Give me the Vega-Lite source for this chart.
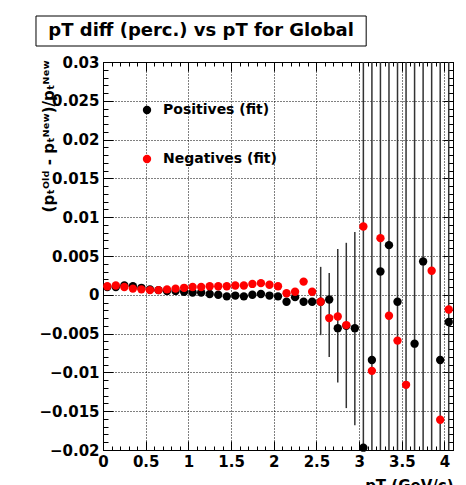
{
  "$schema": "https://vega.github.io/schema/vega-lite/v6.json",
  "padding": {"left": 35, "top": 15, "right": 5, "bottom": 0},
  "background": "white",
  "spacing": 7,
  "config": {"font": "DejaVu Sans"},
  "datasets": {
    "pts": [
      {"pT": 0.05, "v": 0.0010, "s": "Positives (fit)"},
      {"pT": 0.15, "v": 0.0010, "s": "Positives (fit)"},
      {"pT": 0.25, "v": 0.0012, "s": "Positives (fit)"},
      {"pT": 0.35, "v": 0.0011, "s": "Positives (fit)"},
      {"pT": 0.45, "v": 0.0009, "s": "Positives (fit)"},
      {"pT": 0.55, "v": 0.0007, "s": "Positives (fit)"},
      {"pT": 0.65, "v": 0.0006, "s": "Positives (fit)"},
      {"pT": 0.75, "v": 0.0005, "s": "Positives (fit)"},
      {"pT": 0.85, "v": 0.0005, "s": "Positives (fit)"},
      {"pT": 0.95, "v": 0.0004, "s": "Positives (fit)"},
      {"pT": 1.05, "v": 0.0003, "s": "Positives (fit)"},
      {"pT": 1.15, "v": 0.0003, "s": "Positives (fit)"},
      {"pT": 1.25, "v": 0.0001, "s": "Positives (fit)"},
      {"pT": 1.35, "v": 0.0000, "s": "Positives (fit)"},
      {"pT": 1.45, "v": -0.0002, "s": "Positives (fit)"},
      {"pT": 1.55, "v": -0.0001, "s": "Positives (fit)"},
      {"pT": 1.65, "v": -0.0002, "s": "Positives (fit)"},
      {"pT": 1.75, "v": 0.0000, "s": "Positives (fit)"},
      {"pT": 1.85, "v": 0.0001, "s": "Positives (fit)"},
      {"pT": 1.95, "v": -0.0001, "s": "Positives (fit)"},
      {"pT": 2.05, "v": -0.0002, "s": "Positives (fit)"},
      {"pT": 2.15, "v": -0.0009, "s": "Positives (fit)"},
      {"pT": 2.25, "v": -0.0003, "s": "Positives (fit)"},
      {"pT": 2.35, "v": -0.0009, "s": "Positives (fit)"},
      {"pT": 2.45, "v": -0.0009, "s": "Positives (fit)"},
      {"pT": 2.55, "v": -0.0009, "s": "Positives (fit)"},
      {"pT": 2.65, "v": -0.0006, "s": "Positives (fit)"},
      {"pT": 2.75, "v": -0.0043, "s": "Positives (fit)"},
      {"pT": 2.85, "v": -0.0040, "s": "Positives (fit)"},
      {"pT": 2.95, "v": -0.0043, "s": "Positives (fit)"},
      {"pT": 3.05, "v": -0.0197, "s": "Positives (fit)"},
      {"pT": 3.15, "v": -0.0084, "s": "Positives (fit)"},
      {"pT": 3.25, "v": 0.0030, "s": "Positives (fit)"},
      {"pT": 3.35, "v": 0.0064, "s": "Positives (fit)"},
      {"pT": 3.45, "v": -0.0009, "s": "Positives (fit)"},
      {"pT": 3.65, "v": -0.0063, "s": "Positives (fit)"},
      {"pT": 3.75, "v": 0.0043, "s": "Positives (fit)"},
      {"pT": 3.95, "v": -0.0084, "s": "Positives (fit)"},
      {"pT": 4.05, "v": -0.0035, "s": "Positives (fit)"},
      {"pT": 0.05, "v": 0.0011, "s": "Negatives (fit)"},
      {"pT": 0.15, "v": 0.0012, "s": "Negatives (fit)"},
      {"pT": 0.25, "v": 0.0010, "s": "Negatives (fit)"},
      {"pT": 0.35, "v": 0.0008, "s": "Negatives (fit)"},
      {"pT": 0.45, "v": 0.0007, "s": "Negatives (fit)"},
      {"pT": 0.55, "v": 0.0006, "s": "Negatives (fit)"},
      {"pT": 0.65, "v": 0.0006, "s": "Negatives (fit)"},
      {"pT": 0.75, "v": 0.0007, "s": "Negatives (fit)"},
      {"pT": 0.85, "v": 0.0008, "s": "Negatives (fit)"},
      {"pT": 0.95, "v": 0.0009, "s": "Negatives (fit)"},
      {"pT": 1.05, "v": 0.0010, "s": "Negatives (fit)"},
      {"pT": 1.15, "v": 0.0010, "s": "Negatives (fit)"},
      {"pT": 1.25, "v": 0.0011, "s": "Negatives (fit)"},
      {"pT": 1.35, "v": 0.0011, "s": "Negatives (fit)"},
      {"pT": 1.45, "v": 0.0011, "s": "Negatives (fit)"},
      {"pT": 1.55, "v": 0.0012, "s": "Negatives (fit)"},
      {"pT": 1.65, "v": 0.0012, "s": "Negatives (fit)"},
      {"pT": 1.75, "v": 0.0014, "s": "Negatives (fit)"},
      {"pT": 1.85, "v": 0.0015, "s": "Negatives (fit)"},
      {"pT": 1.95, "v": 0.0013, "s": "Negatives (fit)"},
      {"pT": 2.05, "v": 0.0011, "s": "Negatives (fit)"},
      {"pT": 2.15, "v": 0.0002, "s": "Negatives (fit)"},
      {"pT": 2.25, "v": 0.0004, "s": "Negatives (fit)"},
      {"pT": 2.35, "v": 0.0017, "s": "Negatives (fit)"},
      {"pT": 2.45, "v": 0.0004, "s": "Negatives (fit)"},
      {"pT": 2.55, "v": -0.0009, "s": "Negatives (fit)"},
      {"pT": 2.65, "v": -0.0030, "s": "Negatives (fit)"},
      {"pT": 2.75, "v": -0.0028, "s": "Negatives (fit)"},
      {"pT": 2.85, "v": -0.0039, "s": "Negatives (fit)"},
      {"pT": 3.05, "v": 0.0088, "s": "Negatives (fit)"},
      {"pT": 3.15, "v": -0.0098, "s": "Negatives (fit)"},
      {"pT": 3.25, "v": 0.0073, "s": "Negatives (fit)"},
      {"pT": 3.35, "v": -0.0027, "s": "Negatives (fit)"},
      {"pT": 3.45, "v": -0.0059, "s": "Negatives (fit)"},
      {"pT": 3.55, "v": -0.0116, "s": "Negatives (fit)"},
      {"pT": 3.85, "v": 0.0031, "s": "Negatives (fit)"},
      {"pT": 3.95, "v": -0.0161, "s": "Negatives (fit)"},
      {"pT": 4.05, "v": -0.0019, "s": "Negatives (fit)"}
    ],
    "err": [
      {"pT": 2.55, "lo": -0.0052, "hi": 0.0036},
      {"pT": 2.65, "lo": -0.0080, "hi": 0.0028},
      {"pT": 2.75, "lo": -0.0113, "hi": 0.0059},
      {"pT": 2.85, "lo": -0.0146, "hi": 0.0067},
      {"pT": 2.95, "lo": -0.0168, "hi": 0.0081},
      {"pT": 3.05, "lo": -0.02, "hi": 0.03},
      {"pT": 3.15, "lo": -0.02, "hi": 0.03},
      {"pT": 3.25, "lo": -0.02, "hi": 0.03},
      {"pT": 3.35, "lo": -0.02, "hi": 0.03},
      {"pT": 3.45, "lo": -0.02, "hi": 0.03},
      {"pT": 3.55, "lo": -0.02, "hi": 0.03},
      {"pT": 3.65, "lo": -0.02, "hi": 0.03},
      {"pT": 3.75, "lo": -0.02, "hi": 0.03},
      {"pT": 3.85, "lo": -0.02, "hi": 0.03},
      {"pT": 3.95, "lo": -0.02, "hi": 0.03},
      {"pT": 4.05, "lo": -0.02, "hi": 0.03}
    ],
    "ttl": [{"t": "pT diff (perc.) vs pT for Global"}]
  },
  "resolve": {"legend": {"color": "independent"}},
  "vconcat": [
    {
      "width": 350,
      "height": 30,
      "view": {"stroke": null},
      "data": {"name": "ttl"},
      "layer": [
        {
          "mark": {"type": "rect", "fill": "white", "stroke": "black", "strokeWidth": 1, "clip": false},
          "encoding": {
            "x": {"datum": -0.785, "type": "quantitative", "scale": {"domain": [0, 4.1], "nice": false, "zero": false}, "axis": null},
            "x2": {"datum": 3.083}
          }
        },
        {
          "mark": {"type": "text", "font": "DejaVu Sans", "fontWeight": "bold", "fontSize": 18, "color": "black"},
          "encoding": {
            "x": {"datum": 1.149, "type": "quantitative"},
            "text": {"field": "t"}
          }
        }
      ]
    },
    {
      "width": 350,
      "height": 388,
      "view": {"stroke": "black", "strokeWidth": 1},
      "resolve": {"axis": {"x": "independent", "y": "independent"}},
      "layer": [
        {
          "data": {"name": "err"},
          "mark": {"type": "rule", "color": "#333333", "strokeWidth": 1.5},
          "encoding": {
            "x": {
              "field": "pT", "type": "quantitative",
              "scale": {"domain": [0, 4.1], "nice": false, "zero": false},
              "axis": {
                "orient": "bottom",
                "values": [0,0.1,0.2,0.3,0.4,0.5,0.6,0.7,0.8,0.9,1,1.1,1.2,1.3,1.4,1.5,1.6,1.7,1.8,1.9,2,2.1,2.2,2.3,2.4,2.5,2.6,2.7,2.8,2.9,3,3.1,3.2,3.3,3.4,3.5,3.6,3.7,3.8,3.9,4,4.1],
                "tickSize": {"condition": {"test": "abs(datum.value*2 - round(datum.value*2)) < 0.01", "value": -9}, "value": -4},
                "tickColor": "black",
                "tickWidth": 1,
                "domainColor": "black",
                "grid": true,
                "gridColor": "black",
                "gridDash": [1, 2],
                "gridWidth": 1,
                "gridOpacity": {"condition": {"test": "abs(datum.value*2 - round(datum.value*2)) < 0.01 && datum.value > 0 && datum.value < 4.05", "value": 1}, "value": 0},
                "labelExpr": "abs(datum.value*2 - round(datum.value*2)) < 0.01 ? format(datum.value, '~g') : ''",
                "labelFont": "DejaVu Sans",
                "labelFontWeight": "bold",
                "labelFontSize": 15,
                "labelColor": "black",
                "labelPadding": 13,
                "labelFlush": false,
                "labelOverlap": false,
                "title": "pT (GeV/c)",
                "titleFont": "DejaVu Sans",
                "titleFontWeight": "bold",
                "titleFontSize": 15,
                "titleColor": "black",
                "titleAnchor": "end",
                "titlePadding": 4
              }
            },
            "y": {
              "field": "lo", "type": "quantitative",
              "scale": {"domain": [-0.02, 0.03], "nice": false, "zero": false},
              "axis": {
                "orient": "left",
                "values": [-0.02,-0.019,-0.018,-0.017,-0.016,-0.015,-0.014,-0.013,-0.012,-0.011,-0.01,-0.009,-0.008,-0.007,-0.006,-0.005,-0.004,-0.003,-0.002,-0.001,0,0.001,0.002,0.003,0.004,0.005,0.006,0.007,0.008,0.009,0.01,0.011,0.012,0.013,0.014,0.015,0.016,0.017,0.018,0.019,0.02,0.021,0.022,0.023,0.024,0.025,0.026,0.027,0.028,0.029,0.03],
                "tickSize": {"condition": {"test": "abs(datum.value*200 - round(datum.value*200)) < 0.01", "value": -10}, "value": -5},
                "tickColor": "black",
                "tickWidth": 1,
                "domainColor": "black",
                "grid": true,
                "gridColor": "black",
                "gridDash": [1, 2],
                "gridWidth": 1,
                "gridOpacity": {"condition": {"test": "abs(datum.value*200 - round(datum.value*200)) < 0.01 && datum.value > -0.0195 && datum.value < 0.0295", "value": 1}, "value": 0},
                "labelExpr": "abs(datum.value*200 - round(datum.value*200)) < 0.01 ? format(datum.value, '~g') : ''",
                "labelFont": "DejaVu Sans",
                "labelFontWeight": "bold",
                "labelFontSize": 15,
                "labelColor": "black",
                "labelPadding": 14,
                "labelOverlap": false,
                "title": "(pₜᴼˡᵈ - pₜᴺᵉʷ)/pₜᴺᵉʷ",
                "titleFont": "DejaVu Sans",
                "titleFontWeight": "bold",
                "titleFontSize": 15,
                "titleColor": "black",
                "titleAngle": -90,
                "titleX": -55,
                "titleY": -2,
                "titleAlign": "right",
                "titleBaseline": "middle"
              }
            },
            "y2": {"field": "hi"}
          }
        },
        {
          "data": {"name": "pts"},
          "mark": {"type": "circle", "size": 70, "opacity": 1},
          "encoding": {
            "x": {
              "field": "pT", "type": "quantitative",
              "axis": {
                "orient": "top",
                "values": [0,0.1,0.2,0.3,0.4,0.5,0.6,0.7,0.8,0.9,1,1.1,1.2,1.3,1.4,1.5,1.6,1.7,1.8,1.9,2,2.1,2.2,2.3,2.4,2.5,2.6,2.7,2.8,2.9,3,3.1,3.2,3.3,3.4,3.5,3.6,3.7,3.8,3.9,4,4.1],
                "tickSize": {"condition": {"test": "abs(datum.value*2 - round(datum.value*2)) < 0.01", "value": -9}, "value": -4},
                "tickColor": "black",
                "domainColor": "black",
                "labels": false,
                "grid": false,
                "title": null
              }
            },
            "y": {
              "field": "v", "type": "quantitative",
              "axis": {
                "orient": "right",
                "values": [-0.02,-0.019,-0.018,-0.017,-0.016,-0.015,-0.014,-0.013,-0.012,-0.011,-0.01,-0.009,-0.008,-0.007,-0.006,-0.005,-0.004,-0.003,-0.002,-0.001,0,0.001,0.002,0.003,0.004,0.005,0.006,0.007,0.008,0.009,0.01,0.011,0.012,0.013,0.014,0.015,0.016,0.017,0.018,0.019,0.02,0.021,0.022,0.023,0.024,0.025,0.026,0.027,0.028,0.029,0.03],
                "tickSize": {"condition": {"test": "abs(datum.value*200 - round(datum.value*200)) < 0.01", "value": -10}, "value": -5},
                "tickColor": "black",
                "domainColor": "black",
                "labels": false,
                "grid": false,
                "title": null
              }
            },
            "color": {
              "field": "s", "type": "nominal",
              "scale": {"domain": ["Positives (fit)", "Negatives (fit)"], "range": ["#000000", "#ff0000"]},
              "sort": null,
              "legend": {
                "orient": "none",
                "legendX": 37,
                "legendY": 41,
                "title": null,
                "padding": 0,
                "symbolType": "circle",
                "symbolSize": 70,
                "symbolStrokeWidth": 0,
                "labelFont": "DejaVu Sans",
                "labelFontWeight": "bold",
                "labelFontSize": 14,
                "labelColor": "black",
                "labelOffset": 9,
                "rowPadding": 35
              }
            }
          }
        }
      ]
    }
  ]
}
